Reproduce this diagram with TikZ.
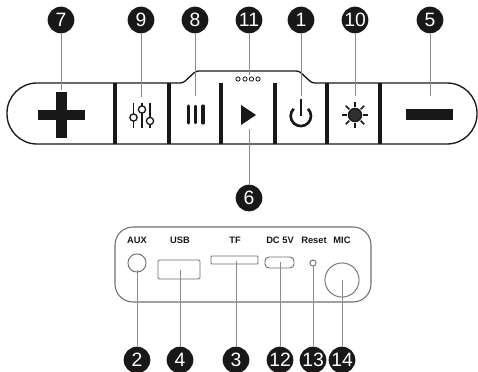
\documentclass[tikz,border=0pt]{standalone}
\usepackage{fontspec}
\setmainfont{Liberation Sans}
\definecolor{badgeblack}{HTML}{1A1717}
\definecolor{leadergray}{HTML}{8C8C8C}
\definecolor{panelgray}{HTML}{6E6E6E}
\tikzset{
    badge/.style={circle, fill=badgeblack, text=white, inner sep=0pt, minimum size=20pt, font=\fontsize{14.5}{15}\selectfont},
    leader/.style={leadergray, line width=0.7pt},
    divider/.style={line width=3pt, badgeblack},
    port/.style={panelgray, line width=0.7pt},
    portlabel/.style={font=\bfseries\fontsize{7}{8}\selectfont, text=badgeblack, inner sep=0pt}
}
\begin{document}
\begin{tikzpicture}[x=0.75pt, y=-0.75pt]
    \useasboundingbox (0,0) rectangle (478,371);

    % Button strip
    \draw[line width=1pt, badgeblack] (37,144) [rounded corners=22.5pt] -- (7,144) -- (7,83) [rounded corners=2pt] -- (183,83) -- (196,71) -- (299,71) -- (312,83) [rounded corners=22.5pt] -- (477,83) -- (477,144) [sharp corners] -- cycle;
    \draw[divider] (115,83) -- (115,144);
    \draw[divider] (168.5,83) -- (168.5,144);
    \draw[divider] (221,83) -- (221,144);
    \draw[divider] (275,83) -- (275,144);
    \draw[divider] (327,83) -- (327,144);
    \draw[divider] (380,83) -- (380,144);

    % Plus and minus
    \fill[badgeblack] (38,110) rectangle (85,120);
    \fill[badgeblack] (56,92) rectangle (67,138);
    \fill[badgeblack] (406,109) rectangle (453,120);

    % Sliders
    \draw[line width=1pt, badgeblack, fill=white] (133.5,103) -- (133.5,128) (142,103) -- (142,128) (150,103) -- (150,128);
    \draw[line width=1pt, badgeblack, fill=white] (133.5,117.5) circle[radius=2.7pt];
    \draw[line width=1pt, badgeblack, fill=white] (142,109.5) circle[radius=2.7pt];
    \draw[line width=1pt, badgeblack, fill=white] (150,121) circle[radius=2.7pt];

    % Pause
    \draw[line width=2.3pt, badgeblack, line cap=round] (188.5,106) -- (188.5,123);
    \draw[line width=1.6pt, badgeblack, line cap=round] (195.5,106) -- (195.5,123);
    \draw[line width=2.3pt, badgeblack, line cap=round] (203,106) -- (203,123);

    % Play
    \fill[badgeblack] (241,105) -- (256,115) -- (241,125) -- cycle;

    % Lamps
    \foreach \lx in {238,245,251.5,258}
        \draw[line width=0.6pt, badgeblack] (\lx,79) circle[radius=1.6pt];

    % Power
    \draw[line width=2pt, badgeblack] (308,108.8) arc[start angle=45, end angle=-225, radius=7.6pt];
    \draw[line width=2pt, badgeblack] (301,99) -- (301,116);

    % Brightness
    \draw[line width=1pt, badgeblack, fill=badgeblack!90] (355,115) circle[radius=4.9pt];
    \foreach \ang in {0,45,...,315}
        \draw[line width=1.3pt, badgeblack] (355,115) ++(\ang:6pt) -- ++(\ang:3.8pt);

    % Rear panel
    \draw[panelgray, line width=0.8pt, rounded corners=13.5pt] (115,227) rectangle (371,302);
    \node[portlabel] (auxlabel) at (137,240) {AUX};
    \node[portlabel] (usblabel) at (180,240) {USB};
    \node[portlabel] (tflabel) at (235,240) {TF};
    \node[portlabel] (dclabel) at (280,240) {DC 5V};
    \node[portlabel] (resetlabel) at (314,240) {Reset};
    \node[portlabel] (miclabel) at (342,240) {MIC};
    \draw[port] (137,263) circle[radius=6.8pt];
    \draw[port, rounded corners=1pt] (158,260) rectangle (200,279);
    \draw[port, rounded corners=0.5pt] (211,256) rectangle (258,264);
    \draw[port, rounded corners=3pt] (265,257) rectangle (294,268);
    \draw[port] (313,263) circle[radius=2.3pt];
    \draw[port] (342,280) circle[radius=12.8pt];

    % Numbers, top row
    \node[badge] (n7) at (61,20) {7};
    \node[badge] (n9) at (141,20) {9};
    \node[badge] (n8) at (195,20) {8};
    \node[badge] (n11) at (249,20) {11};
    \node[badge] (n1) at (301,20) {1};
    \node[badge] (n10) at (355,20) {10};
    \node[badge] (n5) at (430,20) {5};
    \node[badge] (n6) at (249,198) {6};

    % Numbers, bottom row
    \node[badge] (n2) at (137,360) {2};
    \node[badge] (n4) at (180,360) {4};
    \node[badge] (n3) at (236,360) {3};
    \node[badge] (n12) at (280,360) {12};
    \node[badge] (n13) at (313,360) {13};
    \node[badge] (n14) at (342,360) {14};

    % Leader ends
    \coordinate (plus) at (61,90);
    \coordinate (sliders) at (141,97);
    \coordinate (pause) at (195,96);
    \coordinate (lamps) at (249,75);
    \coordinate (power) at (301,96);
    \coordinate (sun) at (355,96);
    \coordinate (minus) at (430,96);
    \coordinate (play) at (249,129);
    \coordinate (aux) at (137,270);
    \coordinate (usb) at (180,270);
    \coordinate (tf) at (236,261);
    \coordinate (dc) at (280,262);
    \coordinate (reset) at (313,266);
    \coordinate (mic) at (342,280);

    \draw[leader] (n7) -- (plus);
    \draw[leader] (n9) -- (sliders);
    \draw[leader] (n8) -- (pause);
    \draw[leader] (n11) -- (lamps);
    \draw[leader] (n1) -- (power);
    \draw[leader] (n10) -- (sun);
    \draw[leader] (n5) -- (minus);
    \draw[leader] (n6) -- (play);
    \draw[leader] (n2) -- (aux);
    \draw[leader] (n4) -- (usb);
    \draw[leader] (n3) -- (tf);
    \draw[leader] (n12) -- (dc);
    \draw[leader] (n13) -- (reset);
    \draw[leader] (n14) -- (mic);
\end{tikzpicture}
\end{document}
